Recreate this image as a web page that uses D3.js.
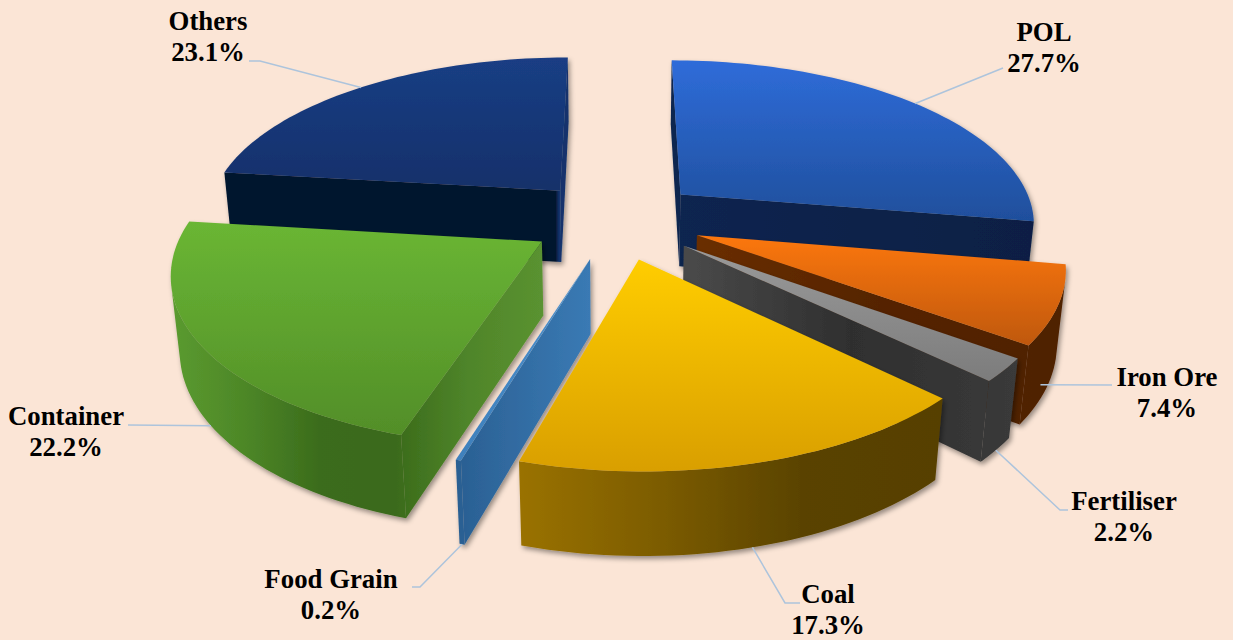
<!DOCTYPE html>
<html>
<head>
<meta charset="utf-8">
<script src="https://cdn.jsdelivr.net/npm/d3@7/dist/d3.min.js"></script>
<style>
html,body{margin:0;padding:0;background:#fbe5d6;overflow:hidden}
svg{display:block}
text{font-family:"Liberation Serif",serif;font-weight:bold;fill:#000;font-size:26.8px}
</style>
</head>
<body>
<svg id="chart" width="1233" height="640"></svg>
<script>
// Cargo share by commodity
const categories = ["POL","Iron Ore","Fertiliser","Coal","Food Grain","Container","Others"];
const shares = [27.7,7.4,2.2,17.3,0.2,22.2,23.1];

// Face colours: top gradient (far to near) and wall gradient (left to right)
const topColors = [["#2f6cd9","#1f4f9c"],["#fc7710","#bf580c"],["#9a9a9a","#7c7c7c"],["#ffcd00","#d99f00"],["#4a90ce","#3f80bc"],["#6ab634","#528e28"],["#1a3e84","#13306a"]];
const wallColors = [
  ["#0c2550","#0a1f44"],
  ["#6a2e00","#552400","#4f2100"],
  ["#4a4a4a","#2f2f2f","#3a3a3a"],
  ["#9a7200","#7c5c00","#5a4300","#574000"],
  ["#2a5f92","#3a7ab4"],
  ["#5b9b30","#4d8727","#3b6c1c","#3a6a1a","#4f852a","#5a9230"],
  ["#05152e","#05152e","#12336c","#12336c"]
];
// Explicit gradient stops where even spacing would not do
const wallOffsets = {6: [0, 0.962, 0.972, 1]};
const leaderColor = "#adc4dc";

// Camera and solid geometry, in radius units
const tilt = 27.3 * Math.PI / 180;
const camDist = 5.5;
const scalePx = 356;
const focal = scalePx * camDist;
const centre = {x: 616, y: 219.5};
const thickness = 0.235;
const explode = 0.243;
const arcStep = 1.5 * Math.PI / 180;

// Text blocks and leader elbows; turn shifts the leader's foot along the rim, in degrees
const labelLayout = {
  "POL":        {x:1044, y:41,  z:0,     turn:0,  anchor:[[1003,68]]},
  "Iron Ore":   {x:1167, y:386, z:-0.78, turn:6,  anchor:[[1112,385]]},
  "Fertiliser": {x:1124, y:510, z:-1,    turn:0,  anchor:[[1060,510],[1068,510]]},
  "Coal":       {x:828,  y:603, z:-1,    turn:0,  anchor:[[785,603],[800,603]]},
  "Food Grain": {x:331,  y:588, z:-1,    turn:0,  anchor:[[420,587],[412,587]]},
  "Container":  {x:66,   y:425, z:-1,    turn:-1, anchor:[[128,425]]},
  "Others":     {x:208,  y:30,  z:0,     turn:0,  anchor:[[260,61],[249,61]]}
};
const lineGap = 31;

function project(X, Y, Z) {
  const up = Y * Math.sin(tilt) + Z * Math.cos(tilt);
  const depth = camDist + Y * Math.cos(tilt) - Z * Math.sin(tilt);
  return [centre.x + focal * X / depth, centre.y - focal * up / depth, depth];
}

const slices = d3.pie().sort(null).value(d => d).startAngle(0).endAngle(2 * Math.PI)(shares)
  .map((s, i) => {
    const mid = (s.startAngle + s.endAngle) / 2;
    return {
      name: categories[i], value: shares[i], index: i,
      a0: s.startAngle, a1: s.endAngle, mid,
      ox: explode * Math.sin(mid), oy: explode * Math.cos(mid)
    };
  });

const rim = (s, a, z) => project(s.ox + Math.sin(a), s.oy + Math.cos(a), z);
const hub = (s, z) => project(s.ox, s.oy, z);
const outline = pts => "M" + pts.map(p => p[0].toFixed(2) + "," + p[1].toFixed(2)).join("L") + "Z";
const signedArea = pts => d3.polygonArea(pts.map(p => [p[0], p[1]]));

const svg = d3.select("#chart");
svg.append("rect").attr("width", 1233).attr("height", 640).attr("fill", "#fbe5d6");
const defs = svg.append("defs");

const shadow = defs.append("filter").attr("id", "drop")
  .attr("x", "-10%").attr("y", "-10%").attr("width", "120%").attr("height", "120%");
shadow.append("feDropShadow").attr("dx", 2).attr("dy", 3).attr("stdDeviation", 2.5)
  .attr("flood-color", "#000").attr("flood-opacity", 0.4);

function addGradient(id, colors, x1, y1, x2, y2, units, offsets) {
  const g = defs.append("linearGradient").attr("id", id)
    .attr("x1", x1).attr("y1", y1).attr("x2", x2).attr("y2", y2);
  if (units) g.attr("gradientUnits", units);
  colors.forEach((c, k) => g.append("stop")
    .attr("offset", offsets ? offsets[k] : k / (colors.length - 1)).attr("stop-color", c));
}

// Nearest slices are painted last
const order = slices.slice().sort((a, b) => hub(b, 0)[2] + rim(b, b.mid, 0)[2] - hub(a, 0)[2] - rim(a, a.mid, 0)[2]);

const layer = svg.append("g");
order.forEach(s => {
  const angles = d3.range(s.a0, s.a1, arcStep).concat([s.a1]);
  const topPts = [hub(s, 0)].concat(angles.map(a => rim(s, a, 0)));
  const xs = [];
  angles.forEach(a => { xs.push(rim(s, a, 0)[0], rim(s, a, -thickness)[0]); });
  xs.push(hub(s, 0)[0]);
  const [xMin, xMax] = d3.extent(xs);

  addGradient("top" + s.index, topColors[s.index], 0, 0, 0, 1);
  addGradient("wall" + s.index, wallColors[s.index], xMin, 0, xMax, 0, "userSpaceOnUse", wallOffsets[s.index]);

  const g = layer.append("g").attr("filter", "url(#drop)");
  const faces = [];

  // Two radial walls; only the ones turned toward the camera are kept
  const wallA = [hub(s, 0), rim(s, s.a0, 0), rim(s, s.a0, -thickness), hub(s, -thickness)];
  const wallB = [rim(s, s.a1, 0), hub(s, 0), hub(s, -thickness), rim(s, s.a1, -thickness)];
  [wallA, wallB].forEach(w => { if (signedArea(w) > 0) faces.push(w); });

  // Curved wall: neighbouring camera-facing steps are joined into one outline
  let upper = [], lower = [];
  const flush = () => {
    if (upper.length) faces.push(upper.concat(lower.slice().reverse()));
    upper = []; lower = [];
  };
  for (let k = 0; k < angles.length - 1; k++) {
    const q = [rim(s, angles[k], 0), rim(s, angles[k + 1], 0),
               rim(s, angles[k + 1], -thickness), rim(s, angles[k], -thickness)];
    if (signedArea(q) > 0) {
      if (!upper.length) { upper.push(q[0]); lower.push(q[3]); }
      upper.push(q[1]); lower.push(q[2]);
    } else flush();
  }
  flush();
  faces.sort((a, b) => d3.mean(b, p => p[2]) - d3.mean(a, p => p[2]));

  g.selectAll("path.wall").data(faces).join("path").attr("class", "wall")
    .attr("d", outline)
    .attr("fill", `url(#wall${s.index})`);

  g.append("path").attr("d", outline(topPts)).attr("fill", `url(#top${s.index})`);
});

// Leader lines and text
const labels = svg.append("g");
slices.forEach(s => {
  const L = labelLayout[s.name];
  const start = rim(s, s.mid + L.turn * Math.PI / 180, L.z * thickness);
  const pts = [[start[0], start[1]]].concat(L.anchor);
  labels.append("path").attr("d", d3.line()(pts)).attr("fill", "none")
    .attr("stroke", leaderColor).attr("stroke-width", 1.5);
  const t = labels.append("text").attr("text-anchor", "middle");
  t.append("tspan").attr("x", L.x).attr("y", L.y).text(s.name);
  t.append("tspan").attr("x", L.x).attr("y", L.y + lineGap).text(d3.format(".1f")(s.value) + "%");
});
</script>
</body>
</html>
